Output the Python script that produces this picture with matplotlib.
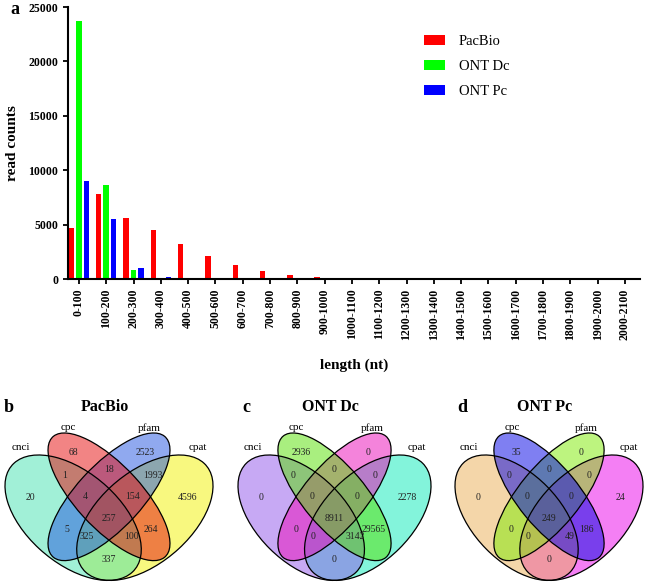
import numpy as np
import matplotlib
matplotlib.use("Agg")
import matplotlib.pyplot as plt
from matplotlib.patches import Ellipse

plt.rcParams['font.family'] = ['Liberation Serif', 'DejaVu Serif']

# panel a data
bins = ["0-100", "100-200", "200-300", "300-400", "400-500", "500-600", "600-700",
        "700-800", "800-900", "900-1000", "1000-1100", "1100-1200", "1200-1300",
        "1300-1400", "1400-1500", "1500-1600", "1600-1700", "1700-1800",
        "1800-1900", "1900-2000", "2000-2100"]
pacbio = [4650, 7850, 5650, 4500, 3200, 2100, 1250, 750, 400, 220, 60, 30, 15, 10, 5, 5, 3, 2, 2, 1, 1]
ont_dc = [23700, 8600, 850, 60, 20, 10, 5, 3, 2, 1, 1, 1, 0, 0, 0, 0, 0, 0, 0, 0, 0]
ont_pc = [9050, 5550, 1000, 200, 40, 15, 10, 5, 5, 5, 5, 5, 5, 5, 10, 10, 10, 10, 5, 2, 1]

# venn data (region order below)
regions = ["A", "B", "C", "D", "AB", "BC", "CD", "ABC", "BCD", "ABCD", "AC", "BD", "ACD", "ABD", "AD"]
set_names = ["cnci", "cpc", "pfam", "cpat"]
venn_b = [20, 68, 2523, 4596, 1, 18, 1993, 4, 154, 257, 5, 264, 325, 100, 337]
venn_c = [0, 2936, 0, 2278, 0, 0, 0, 0, 0, 8911, 0, 29565, 0, 3142, 0]
venn_d = [0, 35, 0, 24, 0, 0, 0, 0, 0, 249, 0, 186, 0, 49, 0]

fig = plt.figure(figsize=(6.45, 5.85), dpi=100)
W, H = 645.0, 585.0

# ---------- panel a ----------
ax = fig.add_axes([68 / W, 1 - 279 / H, (640 - 68) / W, 272 / H])
x = np.arange(len(bins))
bw = 0.2
ax.bar(x - 0.275, pacbio, bw, color="#ff0000", label="PacBio")
ax.bar(x, ont_dc, bw, color="#00ff00", label="ONT Dc")
ax.bar(x + 0.275, ont_pc, bw, color="#0000ff", label="ONT Pc")
ax.set_xlim(-0.4, 20.55)
ax.set_ylim(0, 25000)
ax.set_yticks([0, 5000, 10000, 15000, 20000, 25000])
ax.set_xticks(x)
ax.set_xticklabels(bins, rotation=90, fontsize=8.5, fontweight="bold")
for t in ax.get_yticklabels():
    t.set_fontsize(8.5)
    t.set_fontweight("bold")
for s in ["top", "right"]:
    ax.spines[s].set_visible(False)
ax.spines["left"].set_linewidth(1.5)
ax.spines["bottom"].set_linewidth(1.5)
ax.tick_params(width=1.3, length=3.5)
ax.set_ylabel("read counts", fontsize=11, fontweight="bold", labelpad=7)
ax.set_xlabel("length (nt)", fontsize=11, fontweight="bold", labelpad=13)
ax.legend(loc="upper left", bbox_to_anchor=(0.6, 0.945), frameon=False, fontsize=10.5,
          handlelength=1.45, handleheight=0.7, handletextpad=0.9, labelspacing=0.8)
fig.text(10 / W, 1 - 10 / H, "a", fontsize=13, fontweight="bold", va="center", ha="left")

# ---------- venn panels ----------
# outer ellipses (cnci, cpat) and inner ones (cpc, pfam): centre, semi axes, angle
ell_centers = [(0.35, 0.47), (0.5, 0.565), (0.5, 0.565), (0.65, 0.47)]
ell_axes = [(0.35, 0.2), (0.36, 0.14), (0.36, 0.14), (0.35, 0.2)]
ell_angles = [-45, -50, 50, 45]
draw_order = [3, 0, 2, 1]
label_pos = {"A": (0.17, 0.56), "B": (0.35, 0.765), "C": (0.65, 0.765), "D": (0.83, 0.56),
             "AB": (0.315, 0.66), "BC": (0.5, 0.69), "CD": (0.685, 0.66),
             "ABC": (0.40, 0.565), "BCD": (0.60, 0.565), "ABCD": (0.5, 0.465),
             "AC": (0.325, 0.415), "BD": (0.675, 0.415), "ACD": (0.405, 0.383),
             "ABD": (0.595, 0.383), "AD": (0.5, 0.28)}
name_pos = [(0.13, 0.79), (0.33, 0.878), (0.67, 0.878), (0.87, 0.79)]


def draw_venn(left_px, right_px, vals, colors, title, letter, letter_px):
    sx = (right_px - left_px) / 0.87
    sy = 220.0
    ax_left, ax_right = left_px - 15, right_px + 15
    v = fig.add_axes([ax_left / W, 0, (ax_right - ax_left) / W, 200 / H])
    # axes spans py 385..585
    v.set_xlim(0.065 - 15 / sx, 0.935 + 15 / sx)
    v.set_ylim(0.855 - 152 / sy, 0.855 + 48 / sy)
    v.axis("off")
    for i in draw_order:
        (cx, cy), (a, b) = ell_centers[i], ell_axes[i]
        v.add_patch(Ellipse((cx, cy), 2 * a, 2 * b, angle=ell_angles[i], facecolor=colors[i],
                            alpha=0.5, edgecolor="none", clip_on=False))
    for (cx, cy), (a, b), ang in zip(ell_centers, ell_axes, ell_angles):
        v.add_patch(Ellipse((cx, cy), 2 * a, 2 * b, angle=ang, facecolor="none",
                            edgecolor="black", linewidth=0.9, clip_on=False))
    for r, n in zip(regions, vals):
        px, py = label_pos[r]
        v.text(px, py, str(n), fontsize=7, ha="center", va="center", color="#222222")
    for (px, py), nm in zip(name_pos, set_names):
        v.text(px, py, nm, fontsize=8, ha="center", va="center")
    cxp = (left_px + right_px) / 2 - 4
    fig.text(cxp / W, 1 - 407 / H, title, fontsize=11.5, fontweight="bold",
             ha="center", va="center")
    fig.text(letter_px / W, 1 - 407 / H, letter, fontsize=13, fontweight="bold",
             ha="left", va="center")


draw_venn(5, 213, venn_b, ["#44e2b0", "#e60a0a", "#2255e0", "#f2f200"], "PacBio", "b", 4)
draw_venn(238, 431, venn_c, ["#9155eb", "#55e100", "#eb08b9", "#08ebb9"], "ONT Dc", "c", 242)
draw_venn(455, 643, venn_d, ["#ebaf55", "#0000e6", "#7deb00", "#eb00eb"], "ONT Pc", "d", 457)

fig.savefig("out.png", dpi=100)
